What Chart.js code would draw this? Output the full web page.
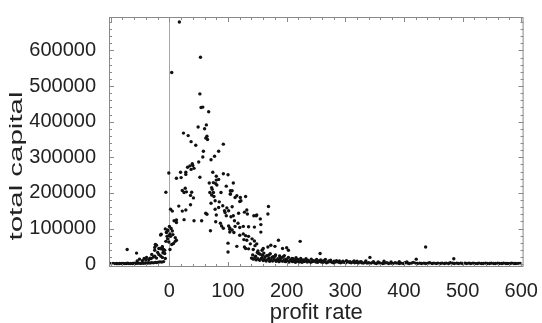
<!DOCTYPE html>
<html>
<head>
<meta charset="utf-8">
<script src="https://cdn.jsdelivr.net/npm/chart.js@4"></script>
<style>
  body { margin: 0; background: #fff; }
  canvas { display: block; }
</style>
</head>
<body>
<canvas id="scatterchart" width="542" height="323"></canvas>
<script>
// profit rate / total capital pairs
const negPoints = [
  [-101,1800],[-98,1500],[-96,2100],[-93,1600],[-90,1900],[-88,1400],[-85,2000],[-82,1700],[-79,2200],[-77,1500],
  [-74,1800],[-71,2400],[-69,1600],[-66,2000],[-63,1900],[-60,2600],[-58,1700],[-55,2300],[-52,2800],[-49,2100],
  [-47,3000],[-44,2500],[-41,3400],[-38,2900],[-36,3800],[-33,3300],[-30,4200],[-27,3600],[-24,5000],[-22,4400],
  [-19,5600],[-16,6500],[-13,5800],[-10,7200],
  [-72,41000],[-56,31000],[-55,9000],[-51,14000],[-46,10000],[-43,16000],[-40,12000],[-39,19000],[-35,13000],[-33,17000],
  [-31,16000],[-30,27000],[-27,20000],[-25,22000],[-25,39000],[-25,47000],[-24,55000],[-22,53000],[-22,17000],[-20,33000],
  [-18,44000],[-18,27000],[-16,44000],[-15,23000],[-15,82000],[-14,43000],[-14,84000],[-12,49000],[-12,19000],[-12,48000],
  [-11,32000],[-10,39000],[-10,41000],[-8,30000],[-8,39000],[-7,16000],[-7,99000],[-6,202000],[-6,64000],[-5,90000],
  [-5,89000],[-4,78000],[-3,94000],[-3,71000],[-3,96000],[-1,256000],[-1,80000],[-1,62000]
];

const peakPoints = [
  [17,680000],[53,581000],[4,538000],[52,478000],[54,440000],[57,441000],[67,428000],[49,385000],[63,391000],[60,380000],
  [24,368000],[32,361000],[37,344000],[45,334000],[62,354000],[64,359000],[65,350000],[92,337000],[84,317000],[58,317000],
  [77,303000],[57,301000],[71,293000],[50,287000],[39,282000],[35,276000],[40,277000],[31,272000],[42,269000],[37,266000],
  [28,258000],[19,258000],[12,241000],[28,252000],[20,243000],[52,244000],[74,258000],[92,254000],[100,251000],[68,228000],
  [80,236000],[79,226000],[81,222000],[27,213000],[22,207000],[29,203000],[25,201000],[38,202000],[36,193000],[41,186000],
  [72,215000],[75,201000],[72,194000],[76,190000],[88,201000],[104,196000],[71,171000],[85,175000],[36,167000],[16,163000],
  [22,149000],[28,152000],[2,154000],[5,149000],[62,143000],[64,140000],[78,154000],[80,138000],[94,150000],[25,125000],
  [42,122000],[55,122000],[8,122000],[12,124000],[12,117000],[79,119000],[87,115000],[89,107000],[92,101000],[70,94000],
  [101,107000],[103,98000],[0,106000],[3,100000],[5,93000],[1,85000],[6,83000],[2,78000],[10,74000],[12,67000],
  [10,64000],[4,55000],[100,34000],[1,41000],[7,58000],
  [75,229000],[80,247000],[84,238000],[107,206000],[115,192000],[121,187000],[69,201000],[73,210000],[78,178000],[84,159000],
  [91,164000],[95,145000],[109,136000],[132,152000],[144,136000],[149,138000],[155,127000]
];

const declinePoints = [
  [109,228000],[97,219000],[104,206000],[104,198000],[112,187000],[120,176000],[122,178000],[130,190000],[98,158000],[101,150000],
  [107,161000],[118,143000],[128,146000],[133,141000],[148,136000],[169,162000],[168,141000],[97,136000],[105,133000],[111,122000],
  [117,115000],[112,106000],[120,103000],[103,102000],[107,96000],[103,90000],[110,89000],[126,106000],[135,105000],[145,104000],
  [156,111000],[156,90000],[120,81000],[126,85000],[130,80000],[135,78000],[127,69000],[132,67000],[141,71000],[145,65000],
  [138,57000],[146,52000],[149,57000],[100,59000],[115,50000],[128,48000],[130,44000],[135,43000],[143,41000],[151,37000],
  [158,39000],[160,44000],[168,48000],[173,53000],[180,50000],[186,67000],[200,46000],[203,39000],[223,64000],[152,30000],
  [159,25000],[163,20000],[169,25000],[175,19000],[180,22000],[189,16000],[194,20000],[200,13000],[209,16000],[214,11000],
  [223,9000],[231,11000],[237,9000],[193,44000],[257,30000]
];

const bandPoints = [
  [142,26000],[147,22000],[150,33000],[155,28000],[158,18000],[161,31000],[166,24000],[170,17000],[172,29000],[177,21000],
  [181,26000],[185,15000],[188,23000],[191,18000],[196,24000],[199,14000],[203,19000],[206,12000],[211,15000],[216,18000],
  [219,13000],[224,16000],[228,12000],[233,15000],[236,11000],[242,14000],[245,10000],[251,13000],[254,9000],[258,12000],
  [263,10000],[266,13000],[272,9000],[275,11000],[281,8000],[285,10000],[290,9000],[296,8000],[302,10000],[308,7000],
  [315,9000],[320,8000],[327,7000],[335,9000],[342,19000],[348,7000],[356,6000],[366,8000],[378,6000],[392,7000],
  [405,6000],[421,14000],[437,48000],[485,15000]
];

const tailPoints = [
  [140,17000],[143,14000],[146,19000],[148,12000],[151,15000],[154,11000],[157,16000],[160,10000],[162,13000],[165,9000],
  [168,14000],[171,8000],[173,12000],[176,9000],[179,13000],[182,8000],[184,11000],[187,7000],[190,10000],[193,8000],
  [196,12000],[198,7000],[201,9000],[204,6000],[207,10000],[210,7000],[212,8000],[215,5000],[218,9000],[221,6000],
  [224,8000],[226,5000],[229,7000],[232,9000],[235,6000],[238,8000],[241,5000],[244,7000],[247,9000],[250,6000],
  [253,5000],[256,8000],[259,6000],[262,5000],[265,7000],[268,4000],[271,6000],[274,8000],[277,5000],[280,4000],
  [283,6000],[286,7000],[289,5000],[292,4000],[295,6000],[298,5000],[301,4000],[304,7000],[307,5000],[310,4000],
  [313,6000],[316,4000],[319,5000],[322,3000],[325,6000],[328,4000],[331,3000],[334,5000],[337,3000],[340,4000],
  [344,3000],[347,5000],[350,3000],[353,2000],[357,4000],[360,3000],[364,2000],[367,3000],[371,4000],[374,2000],
  [378,3000],[381,2000],[385,4000],[388,3000],[392,2000],[395,3000],[399,2000],[402,4000],[406,3000],[409,2000],
  [413,3000],[416,5000],[420,3000],[423,2000],[427,3000],[430,2000],[434,3000],[437,2000],[441,3000],[444,4000],
  [448,2000],[451,3000],[455,2000],[458,3000],[462,2000],[465,3000],[469,2000],[472,3000],[476,2000],[479,4000],
  [483,3000],[486,2000],[490,3000],[493,2000],[497,3000],[500,2000],[504,3000],[507,2000],[511,3000],[514,2000],
  [518,3000],[521,2000],[525,2000],[528,3000],[532,2000],[535,2000],[539,3000],[542,2000],[546,2000],[549,3000],
  [553,2000],[556,2000],[560,3000],[563,2000],[567,2000],[570,3000],[574,2000],[577,2000],[581,2000],[584,3000],
  [588,2000],[591,2000],[595,2000],[598,2000]
];

const xTicks = [0, 100, 200, 300, 400, 500, 600];
const yTicks = [0, 100000, 200000, 300000, 400000, 500000, 600000];
const xTitle = 'profit rate';
const yTitle = 'total capital';

const FONT = "'Liberation Sans', Arial, sans-serif";

function makeSet(points) {
  return {
    data: points.map(p => ({x: p[0], y: p[1]})),
    backgroundColor: '#111',
    borderWidth: 0,
    pointRadius: 1.7,
    pointHoverRadius: 1.7
  };
}

// zero line, frame with inward ticks, and the y title
const framePlugin = {
  id: 'frame',
  beforeDatasetsDraw(chart) {
    const {ctx, chartArea: a, scales: {x}} = chart;
    const x0 = Math.round(x.getPixelForValue(0)) + 0.5;
    ctx.save();
    ctx.strokeStyle = '#a8a8a8';
    ctx.lineWidth = 1;
    ctx.beginPath();
    ctx.moveTo(x0, a.top);
    ctx.lineTo(x0, a.bottom);
    ctx.stroke();
    ctx.restore();
  },
  afterDatasetsDraw(chart) {
    const {ctx, chartArea: a, scales: {x, y}} = chart;
    ctx.save();
    ctx.strokeStyle = '#8a8a8a';
    ctx.lineWidth = 1;
    ctx.strokeRect(a.left + 0.5, a.top + 0.5, a.right - a.left - 1, a.bottom - a.top - 1);
    ctx.beginPath();
    for (let v = -100; v <= 600; v += 20) {
      const px = Math.round(x.getPixelForValue(v)) + 0.5;
      const len = v % 100 === 0 ? 5 : 3;
      ctx.moveTo(px, a.bottom); ctx.lineTo(px, a.bottom - len);
      ctx.moveTo(px, a.top); ctx.lineTo(px, a.top + len);
    }
    for (let v = 0; v <= 680000; v += 20000) {
      const py = Math.round(y.getPixelForValue(v)) + 0.5;
      const len = v % 100000 === 0 ? 5 : 3;
      ctx.moveTo(a.left, py); ctx.lineTo(a.left + len, py);
      ctx.moveTo(a.right, py); ctx.lineTo(a.right - len, py);
    }
    ctx.stroke();

    ctx.fillStyle = '#222';
    ctx.font = '19px ' + FONT;
    ctx.textAlign = 'center';
    ctx.textBaseline = 'middle';
    ctx.translate(17, 166);
    ctx.rotate(-Math.PI / 2);
    ctx.scale(1.55, 1);
    ctx.fillText(yTitle, 0, 0);
    ctx.restore();
  }
};

const chart = new Chart(document.getElementById('scatterchart').getContext('2d'), {
  type: 'scatter',
  data: {
    datasets: [negPoints, peakPoints, declinePoints, bandPoints, tailPoints].map(makeSet)
  },
  options: {
    responsive: false,
    animation: false,
    events: [],
    layout: {padding: {top: 14, right: 18, left: 0, bottom: 0}},
    plugins: {legend: {display: false}, tooltip: {enabled: false}},
    scales: {
      x: {
        type: 'linear',
        min: -103,
        max: 604,
        afterBuildTicks: s => { s.ticks = xTicks.map(v => ({value: v})); },
        afterFit: s => { s.height = 56; },
        grid: {display: false},
        border: {display: false},
        ticks: {color: '#222', padding: 4, font: {size: 20, family: FONT}, callback: v => String(v)},
        title: {display: true, text: xTitle, color: '#222', padding: {top: 0, bottom: -3}, font: {size: 22, family: FONT}}
      },
      y: {
        type: 'linear',
        min: -8000,
        max: 694000,
        afterBuildTicks: s => { s.ticks = yTicks.map(v => ({value: v})); },
        afterFit: s => { s.width = 109; },
        grid: {display: false},
        border: {display: false},
        ticks: {color: '#222', padding: 5, font: {size: 20, family: FONT}, callback: v => String(v)}
      }
    }
  },
  plugins: [framePlugin]
});
</script>
</body>
</html>
